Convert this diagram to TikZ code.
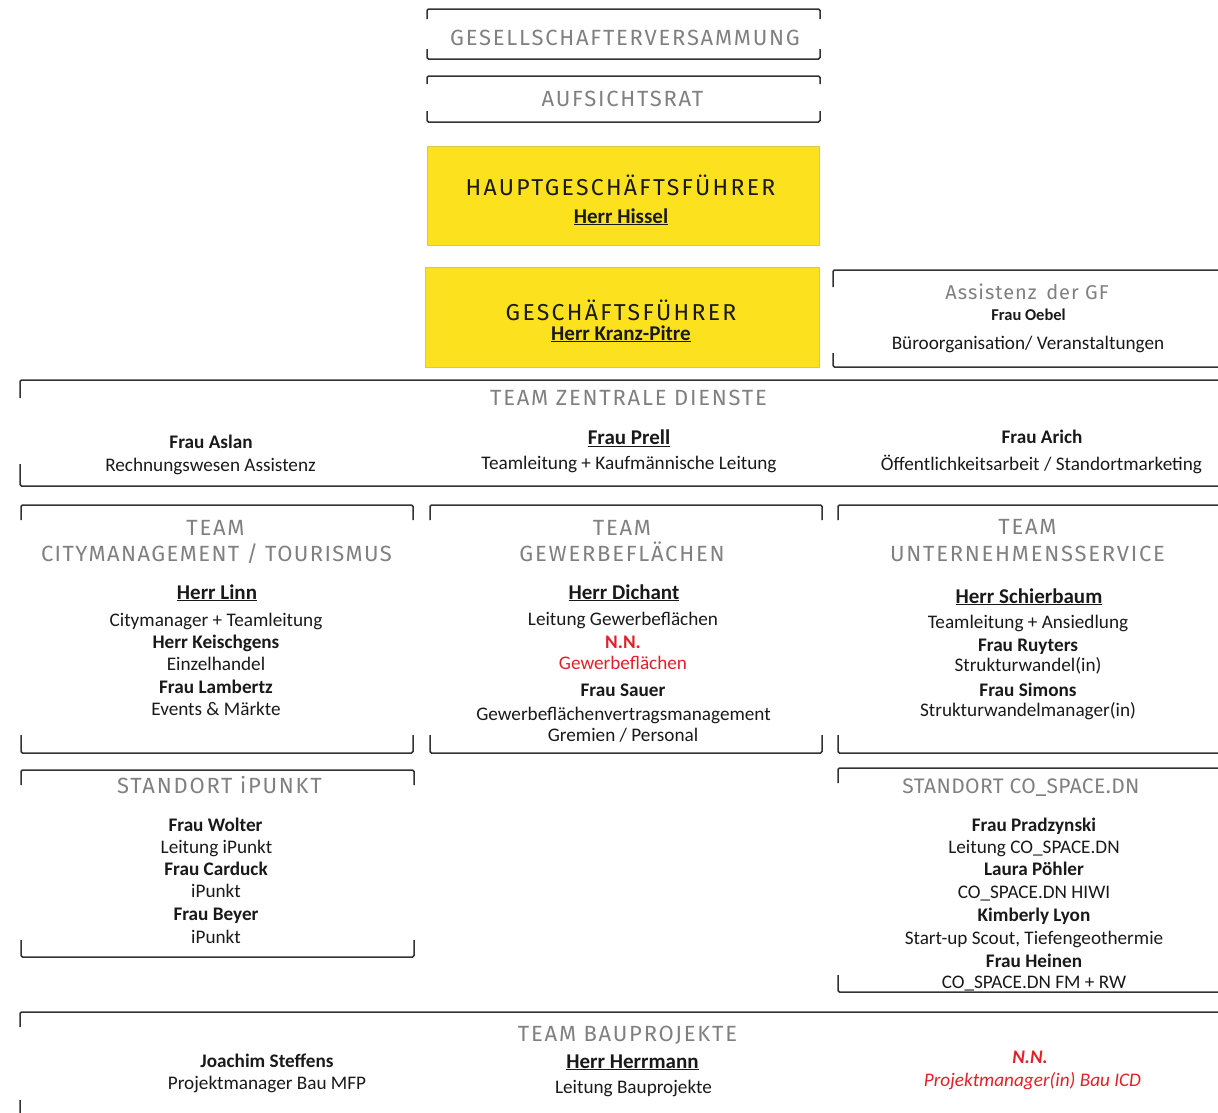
\documentclass[tikz,border=0pt]{standalone}
\usepackage{fontspec}
\setmainfont{Carlito}
\newfontfamily\dinf[LetterSpace=8]{Fira Sans}
\newfontfamily\dinb[LetterSpace=10]{Fira Sans}
\newfontfamily\dins[LetterSpace=5]{Fira Sans}
\newfontfamily\dinm[LetterSpace=6.4]{Fira Sans}
\newfontfamily\dinn[LetterSpace=2]{Fira Sans}
\usetikzlibrary{fit}
\definecolor{ttlc}{RGB}{128,128,128}
\definecolor{ink}{RGB}{25,25,25}
\definecolor{framec}{RGB}{50,50,50}
\definecolor{gelb}{RGB}{252,226,30}
\definecolor{gelbrand}{RGB}{222,198,70}
\definecolor{rot}{RGB}{226,32,40}
\tikzset{
 frm/.style={draw=framec, line width=1.5pt, rounded corners=1.5pt},
 area/.style={inner sep=0pt, outer sep=0pt},
 ybox/.style={area, fill=gelb, draw=gelbrand, line width=0.8pt},
 ttl/.style={inner sep=0pt, anchor=base, text=ttlc, font=\dinf\fontsize{22}{22}\selectfont},
 ttlb/.style={ttl, text=ink, font=\dinb\fontsize{23}{23}\selectfont},
 bt/.style={inner sep=0pt, anchor=base, text=ink, font=\fontsize{19.2}{20}\selectfont},
 nm/.style={bt, font=\bfseries\fontsize{19.2}{20}\selectfont},
 hd/.style={bt, font=\bfseries\fontsize{21}{22}\selectfont},
 red/.style={text=rot},
}
\newcommand\orgframe[3]{%
 \draw[frm] ([yshift=-#2pt]#1.north west) -- (#1.north west) -- (#1.north east) -- ([yshift=-#2pt]#1.north east);
 \draw[frm] ([yshift=#3pt]#1.south west) -- (#1.south west) -- (#1.south east) -- ([yshift=#3pt]#1.south east);
}
\begin{document}
\begin{tikzpicture}[x=1pt,y=-1pt]
\useasboundingbox (0,0) rectangle (1218,1112);
\clip (0,0) rectangle (1218,1112);

% frames
\node[area, fit={(427,9) (820,59)}] (gv) {};
\node[area, fit={(427,76) (820,122)}] (ar) {};
\node[area, fit={(833,270) (1240,367)}] (as) {};
\node[area, fit={(20,380) (1240,486)}] (zd) {};
\node[area, fit={(21,505) (413,753)}] (cm) {};
\node[area, fit={(430,505) (822,753)}] (gw) {};
\node[area, fit={(838,505) (1240,753)}] (us) {};
\node[area, fit={(21,770) (414,957)}] (ip) {};
\node[area, fit={(838,768) (1240,992)}] (co) {};
\node[area, fit={(20,1012) (1240,1116)}] (bp) {};
\orgframe{gv}{10}{10}
\orgframe{ar}{8}{11}
\orgframe{as}{17}{14}
\orgframe{zd}{18}{22}
\orgframe{cm}{15}{18}
\orgframe{gw}{15}{18}
\orgframe{us}{15}{18}
\orgframe{ip}{15}{17}
\orgframe{co}{15}{17}
\orgframe{bp}{15}{16}

% yellow boxes
\node[ybox, fit={(427,146) (819,245)}] (hg) {};
\node[ybox, fit={(425,267) (819,367)}] (gf) {};

% top titles
\node[ttl] (gvt) at (625,45) {GESELLSCHAFTERVERSAMMUNG};
\node[ttl] (art) at (622.5,106.5) {AUFSICHTSRAT};
\node[ttlb] (hgt) at (620.5,195) {HAUPTGESCHÄFTSFÜHRER};
\node[hd] (hgn) at (621,223) {\underline{Herr Hissel}};
\node[ttlb] (gft) at (621,320.5) {GESCHÄFTSFÜHRER};
\node[hd] (gfn) at (621,340) {\underline{Herr Kranz-Pitre}};

% Assistenz
\node[ttl, font=\dins\fontsize{20}{20}\selectfont] (ast) at (1027,299) {Assistenz\, der GF};
\node[nm, font=\bfseries\fontsize{16.5}{16}\selectfont] (as1) at (1028.5,320) {Frau Oebel};
\node[bt, font=\fontsize{19.2}{18}\selectfont] (as2) at (1028,349) {Büroorganisation/ Veranstaltungen};

% Zentrale Dienste
\node[ttl] (zdt) at (628.5,405) {TEAM ZENTRALE DIENSTE};
\node[nm] (zd1) at (211,448) {Frau Aslan};
\node[bt] (zd2) at (210.5,471) {Rechnungswesen Assistenz};
\node[hd] (zd3) at (629,444.5) {\underline{Frau Prell}};
\node[bt] (zd4) at (629,469.5) {Teamleitung + Kaufmännische Leitung};
\node[nm] (zd5) at (1042,443.5) {Frau Arich};
\node[bt] (zd6) at (1041.5,470) {Öffentlichkeitsarbeit / Standortmarketing};

% Citymanagement
\node[ttl] (cmt1) at (215.5,535) {TEAM};
\node[ttl, font=\dinm\fontsize{22}{22}\selectfont] (cmt2) at (216.5,561.5) {CITYMANAGEMENT / TOURISMUS};
\node[hd] (cm1) at (217,599) {\underline{Herr Linn}};
\node[bt] (cm2) at (216,626.5) {Citymanager + Teamleitung};
\node[nm] (cm3) at (216,648.5) {Herr Keischgens};
\node[bt] (cm4) at (216,670) {Einzelhandel};
\node[nm] (cm5) at (216,693.5) {Frau Lambertz};
\node[bt] (cm6) at (216,715) {Events \& Märkte};

% Gewerbeflaechen
\node[ttl] (gwt1) at (622,535) {TEAM};
\node[ttl] (gwt2) at (622,561.5) {GEWERBEFLÄCHEN};
\node[hd] (gw1) at (624,599) {\underline{Herr Dichant}};
\node[bt] (gw2) at (623,625) {Leitung Gewerbeflächen};
\node[nm, red] (gw3) at (623,648) {N.N.};
\node[bt, red] (gw4) at (623,669) {Gewerbeflächen};
\node[nm] (gw5) at (623,696.5) {Frau Sauer};
\node[bt] (gw6) at (623.5,720) {Gewerbeflächenvertragsmanagement};
\node[bt] (gw7) at (623,741.5) {Gremien / Personal};

% Unternehmensservice
\node[ttl] (ust1) at (1027.5,534) {TEAM};
\node[ttl] (ust2) at (1027.5,561.5) {UNTERNEHMENSSERVICE};
\node[hd] (us1) at (1029,603) {\underline{Herr Schierbaum}};
\node[bt] (us2) at (1028,628) {Teamleitung + Ansiedlung};
\node[nm] (us3) at (1028,651.5) {Frau Ruyters};
\node[bt] (us4) at (1028,671.5) {Strukturwandel(in)};
\node[nm] (us5) at (1028,696.5) {Frau Simons};
\node[bt] (us6) at (1028,716.5) {Strukturwandelmanager(in)};

% Standort iPunkt
\node[ttl] (ipt) at (219.5,793) {STANDORT iPUNKT};
\node[nm] (ip1) at (215.5,831) {Frau Wolter};
\node[bt] (ip2) at (216.5,853) {Leitung iPunkt};
\node[nm] (ip3) at (216,875) {Frau Carduck};
\node[bt] (ip4) at (216,897.5) {iPunkt};
\node[nm] (ip5) at (216,920) {Frau Beyer};
\node[bt] (ip6) at (216,943) {iPunkt};

% Standort CO_SPACE.DN
\node[ttl, font=\dinn\fontsize{21}{21}\selectfont] (cot) at (1021,793) {STANDORT CO\_SPACE.DN};
\node[nm] (co1) at (1034,831) {Frau Pradzynski};
\node[bt] (co2) at (1034,853) {Leitung CO\_SPACE.DN};
\node[nm] (co3) at (1034,875) {Laura Pöhler};
\node[bt] (co4) at (1034,898) {CO\_SPACE.DN HIWI};
\node[nm] (co5) at (1034,921) {Kimberly Lyon};
\node[bt] (co6) at (1034,944) {Start-up Scout, Tiefengeothermie};
\node[nm] (co7) at (1034,967) {Frau Heinen};
\node[bt] (co8) at (1034,988) {CO\_SPACE.DN FM + RW};

% Bauprojekte
\node[ttl] (bpt) at (627.5,1041) {TEAM BAUPROJEKTE};
\node[nm] (bp1) at (267,1067) {Joachim Steffens};
\node[bt] (bp2) at (267,1089) {Projektmanager Bau MFP};
\node[hd] (bp3) at (632.5,1068) {\underline{Herr Herrmann}};
\node[bt] (bp4) at (633.5,1093) {Leitung Bauprojekte};
\node[nm, red, font=\bfseries\itshape\fontsize{19.2}{20}\selectfont] (bp5) at (1030,1063) {N.N.};
\node[bt, red, font=\itshape\fontsize{19.2}{20}\selectfont] (bp6) at (1032.5,1086) {Projektmanager(in) Bau ICD};
\end{tikzpicture}
\end{document}
